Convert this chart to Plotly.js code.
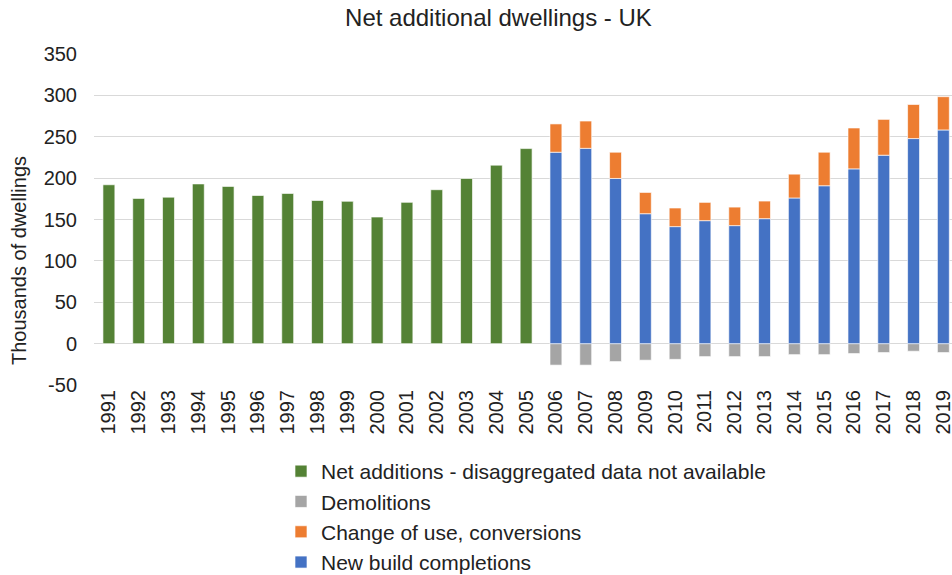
<!DOCTYPE html>
<html>
<head>
<meta charset="utf-8">
<script src="https://cdn.plot.ly/plotly-3.0.1.min.js"></script>
<style>html,body{margin:0;padding:0;background:#fff;}#chart{width:952px;height:575px;}</style>
</head>
<body>
<div id="chart"></div>
<script>
const years = ["1991","1992","1993","1994","1995","1996","1997","1998","1999","2000","2001","2002","2003","2004","2005","2006","2007","2008","2009","2010","2011","2012","2013","2014","2015","2016","2017","2018","2019"];
const netAdditions = [192,175.5,177,193,190,179,181.5,173,172,153,170.7,186,199.6,215.7,235.7,null,null,null,null,null,null,null,null,null,null,null,null,null,null];
const demolitions = [null,null,null,null,null,null,null,null,null,null,null,null,null,null,null,-26,-26,-21.7,-20,-19,-15.7,-15.7,-15.7,-13.3,-13.3,-12,-10.8,-9.2,-10.8];
const newBuild = [null,null,null,null,null,null,null,null,null,null,null,null,null,null,null,231.3,236,199.6,157,141.4,148.6,142.6,151,176,190.8,211.2,227.7,247.8,258.2];
const changeOfUse = [null,null,null,null,null,null,null,null,null,null,null,null,null,null,null,34.2,33,31.7,25.7,22.5,22.1,22.4,21.3,28.8,40.5,49.4,43.3,41.2,40.2];
const yTickVals = [-50,0,50,100,150,200,250,300,350];
const yTickText = ["-50","0","50","100","150","200","250","300","350"];

const FONT = "Liberation Sans, Arial, sans-serif";
const TXT = "#222222";
const edge = {color: "rgba(255,255,255,0.8)", width: 0.8};

const traces = [
  {type:"bar", name:"Net additions - disaggregated data not available", x:years, y:netAdditions, marker:{color:"#548235", line:edge}, legendrank:1},
  {type:"bar", name:"Demolitions", x:years, y:demolitions, marker:{color:"#A5A5A5", line:edge}, legendrank:2},
  {type:"bar", name:"New build completions", x:years, y:newBuild, marker:{color:"#4472C4", line:edge}, legendrank:4},
  {type:"bar", name:"Change of use, conversions", x:years, y:changeOfUse, marker:{color:"#ED7D31", line:edge}, legendrank:3}
];

// plot area: x 94..952, y 54..385
const PL = 94, PW = 952 - 94, PT = 54, PH = 385 - 54;

const layout = {
  width:952, height:575,
  margin:{l:PL, r:0, t:PT, b:575-PT-PH, pad:0, autoexpand:false},
  paper_bgcolor:"#ffffff", plot_bgcolor:"#ffffff",
  barmode:"relative", bargap:0.6,
  font:{family:FONT, color:TXT, size:20},
  title:{text:"Net additional dwellings - UK", font:{family:FONT, size:24, color:TXT}, x:0.5236, xref:"container", xanchor:"center", y:0.970, yref:"container", yanchor:"middle"},
  xaxis:{type:"category", range:[-0.5, 28.29], tickmode:"array", tickvals:years, ticktext:years, tickangle:-90, tickfont:{size:20, color:TXT}, showgrid:false, zeroline:false, showline:false, ticks:"", automargin:false, fixedrange:true},
  yaxis:{range:[-50,350], tickmode:"array", tickvals:yTickVals, ticktext:yTickText, tickfont:{size:20, color:TXT}, showgrid:true, gridcolor:"#d9d9d9", gridwidth:1, zeroline:false, showline:false, ticks:"", ticklabelstandoff:16, automargin:false},
  annotations:[{text:"Thousands of dwellings", textangle:-90, xref:"paper", yref:"paper", x:(19-PL)/PW, y:(385-261)/PH, xanchor:"center", yanchor:"middle", showarrow:false, font:{size:20, color:TXT}}],
  showlegend:true,
  legend:{orientation:"v", traceorder:"normal", xref:"paper", yref:"paper", x:(281-PL)/PW, xanchor:"left", y:(385-451)/PH, yanchor:"top", font:{size:21, color:TXT}, bgcolor:"rgba(0,0,0,0)"}
};

Plotly.newPlot("chart", traces, layout, {displayModeBar:false, staticPlot:true});
</script>
</body>
</html>
